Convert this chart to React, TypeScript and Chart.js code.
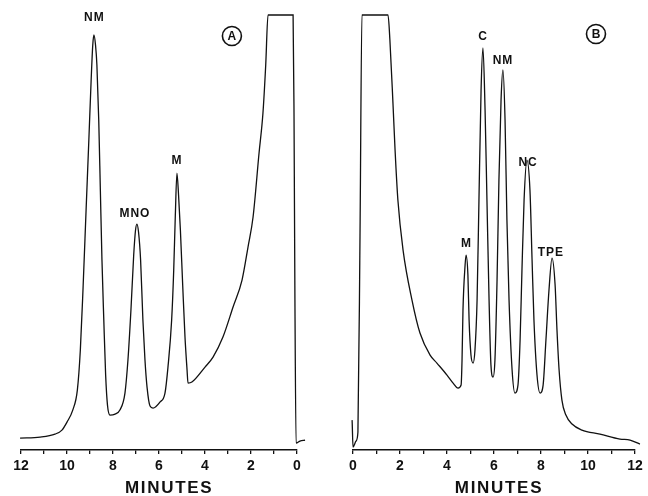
import React, { useEffect, useRef } from "react";
import { Chart, registerables } from "chart.js";

Chart.register(...registerables);

// ---- Data (minutes, detector response) ----
const leftTimes = [12.04, 11.17, 10.52, 10.22, 10.00, 9.75, 9.55, 9.42, 9.30, 9.17, 9.05, 8.95, 8.88, 8.83, 8.76, 8.70, 8.62, 8.55, 8.48, 8.40, 8.32, 8.24, 8.13, 7.91, 7.70, 7.48, 7.35, 7.22, 7.10, 7.02, 6.96, 6.89, 6.80, 6.70, 6.61, 6.52, 6.39, 6.26, 5.96, 5.74, 5.61, 5.45, 5.36, 5.29, 5.22, 5.15, 5.07, 4.97, 4.87, 4.78, 4.74, 4.57, 4.00, 3.65, 3.22, 2.78, 2.39, 2.13, 1.91, 1.65, 1.48, 1.36, 1.26, 0.17, 0.13, 0.09, 0.04, -0.13, -0.35];
const leftSignal = [12, 13, 16, 20, 28, 40, 60, 100, 163, 240, 310, 370, 405, 415, 405, 385, 330, 260, 190, 130, 75, 45, 35, 36, 40, 57, 90, 140, 195, 220, 226, 218, 190, 130, 90, 63, 44, 42, 48, 57, 83, 130, 180, 235, 277, 255, 220, 165, 113, 80, 67, 68, 83, 93, 113, 143, 170, 203, 233, 297, 337, 385, 435, 435, 337, 150, 7, 9, 10];

const rightTimes = [-0.13, -0.04, 0.00, 0.13, 0.21, 0.30, 0.38, 1.49, 1.57, 1.70, 1.79, 1.91, 2.13, 2.51, 2.85, 3.28, 3.57, 4.00, 4.26, 4.47, 4.60, 4.64, 4.68, 4.77, 4.81, 4.89, 4.94, 5.02, 5.11, 5.19, 5.28, 5.36, 5.45, 5.53, 5.62, 5.70, 5.79, 5.87, 5.96, 6.04, 6.13, 6.21, 6.30, 6.38, 6.47, 6.55, 6.64, 6.77, 6.89, 7.02, 7.11, 7.19, 7.28, 7.40, 7.53, 7.62, 7.70, 7.83, 7.96, 8.09, 8.21, 8.34, 8.47, 8.60, 8.68, 8.77, 8.89, 9.06, 9.32, 9.74, 10.51, 11.36, 11.79, 12.21];
const rightSignal = [35, 30, 3, 9, 18, 220, 435, 435, 410, 347, 300, 250, 200, 150, 117, 95, 87, 75, 67, 62, 65, 90, 140, 185, 195, 175, 130, 95, 87, 100, 150, 250, 360, 402, 340, 250, 150, 85, 73, 90, 170, 270, 350, 380, 330, 230, 150, 80, 57, 65, 110, 180, 250, 290, 260, 190, 130, 75, 57, 65, 110, 160, 192, 165, 120, 80, 50, 35, 26, 20, 16, 11, 10, 6];

// Peak labels (text, minute, response level of the label centre)
const leftPeakNames = ["NM", "MNO", "M"];
const leftPeakTimes = [8.83, 7.07, 5.24];
const leftPeakLevels = [432, 236, 289];

const rightPeakNames = ["C", "NM", "NC", "M", "TPE"];
const rightPeakTimes = [5.51, 6.36, 7.43, 4.81, 8.40];
const rightPeakLevels = [413, 389, 287, 206, 197];

const panelNames = ["A", "B"];
const panelTimes = [2.83, 10.34];
const panelLevels = [414, 416];

const labeledMinutes = [0, 2, 4, 6, 8, 10, 12];
const axisTitle = "MINUTES";
const titleMinute = [5.6, 6.17];

const FONT = '"Liberation Sans", Arial, sans-serif';

function makeAnnotPlugin(names: string[], times: number[], levels: number[], panel: number) {
  return {
    id: "annot" + panel,
    afterDatasetsDraw(chart: any) {
      const ctx = chart.ctx as any;
      const xs = chart.scales.x;
      const ys = chart.scales.y;
      ctx.save();
      ctx.fillStyle = "#111";
      ctx.textAlign = "center";
      ctx.textBaseline = "middle";
      ctx.font = `bold 12px ${FONT}`;
      ctx.letterSpacing = "1px";
      names.forEach((n, i) => {
        ctx.fillText(n, xs.getPixelForValue(times[i]) + 0.5, ys.getPixelForValue(levels[i]));
      });
      // circled panel letter
      const cx = xs.getPixelForValue(panelTimes[panel]);
      const cy = ys.getPixelForValue(panelLevels[panel]);
      ctx.letterSpacing = "0px";
      ctx.beginPath();
      ctx.lineWidth = 1.6;
      ctx.strokeStyle = "#111";
      ctx.arc(cx, cy, 9.5, 0, Math.PI * 2);
      ctx.stroke();
      ctx.font = `bold 12px ${FONT}`;
      ctx.fillText(panelNames[panel], cx, cy + 0.5);
      // axis title
      ctx.font = `bold 17px ${FONT}`;
      ctx.letterSpacing = "1.7px";
      ctx.fillText(axisTitle, xs.getPixelForValue(titleMinute[panel]) + 1, 488);
      ctx.restore();
    },
  };
}

function Chromatogram(props: {
  times: number[];
  signal: number[];
  reverse: boolean;
  padLeft: number;
  padRight: number;
  names: string[];
  ptimes: number[];
  plevels: number[];
  panel: number;
  width: number;
  left: number;
}) {
  const ref = useRef<HTMLCanvasElement | null>(null);
  useEffect(() => {
    if (!ref.current) return;
    const chart = new Chart(ref.current, {
      type: "line",
      data: {
        datasets: [
          {
            data: props.times.map((t, i) => ({ x: t, y: props.signal[i] })),
            borderColor: "#111",
            borderWidth: 1.3,
            pointRadius: 0,
            cubicInterpolationMode: "monotone",
            clip: false as any,
            fill: false,
          },
        ],
      },
      options: {
        animation: false,
        responsive: false,
        events: [],
        layout: { padding: { left: props.padLeft, right: props.padRight, top: 10, bottom: 18 } },
        plugins: { legend: { display: false }, tooltip: { enabled: false } },
        scales: {
          x: {
            type: "linear",
            min: 0,
            max: 12,
            reverse: props.reverse,
            border: { display: true, color: "#111", width: 1.5 },
            grid: { drawOnChartArea: false, drawTicks: true, tickLength: 4, color: "#111", lineWidth: 1.3 },
            ticks: {
              stepSize: 1,
              autoSkip: false,
              maxRotation: 0,
              padding: 3,
              color: "#111",
              font: { family: FONT, size: 14, weight: "bold", lineHeight: 1.28 },
              callback: (v: any) => (labeledMinutes.includes(Number(v)) ? String(v) : ""),
            },
          },
          y: { display: false, min: 0, max: 440 },
        },
      } as any,
      plugins: [makeAnnotPlugin(props.names, props.ptimes, props.plevels, props.panel)],
    });
    return () => chart.destroy();
  }, []);
  return (
    <canvas
      ref={ref}
      width={props.width}
      height={496}
      style={{ position: "absolute", left: props.left, top: 0, width: props.width, height: 496 }}
    />
  );
}

export default function App() {
  return (
    <div style={{ position: "fixed", left: 0, top: 0, width: 648, height: 496, background: "#fff" }}>
      <Chromatogram
        times={leftTimes}
        signal={leftSignal}
        reverse={true}
        padLeft={21}
        padRight={23}
        names={leftPeakNames}
        ptimes={leftPeakTimes}
        plevels={leftPeakLevels}
        panel={0}
        width={320}
        left={0}
      />
      <Chromatogram
        times={rightTimes}
        signal={rightSignal}
        reverse={false}
        padLeft={33}
        padRight={13}
        names={rightPeakNames}
        ptimes={rightPeakTimes}
        plevels={rightPeakLevels}
        panel={1}
        width={328}
        left={320}
      />
    </div>
  );
}
